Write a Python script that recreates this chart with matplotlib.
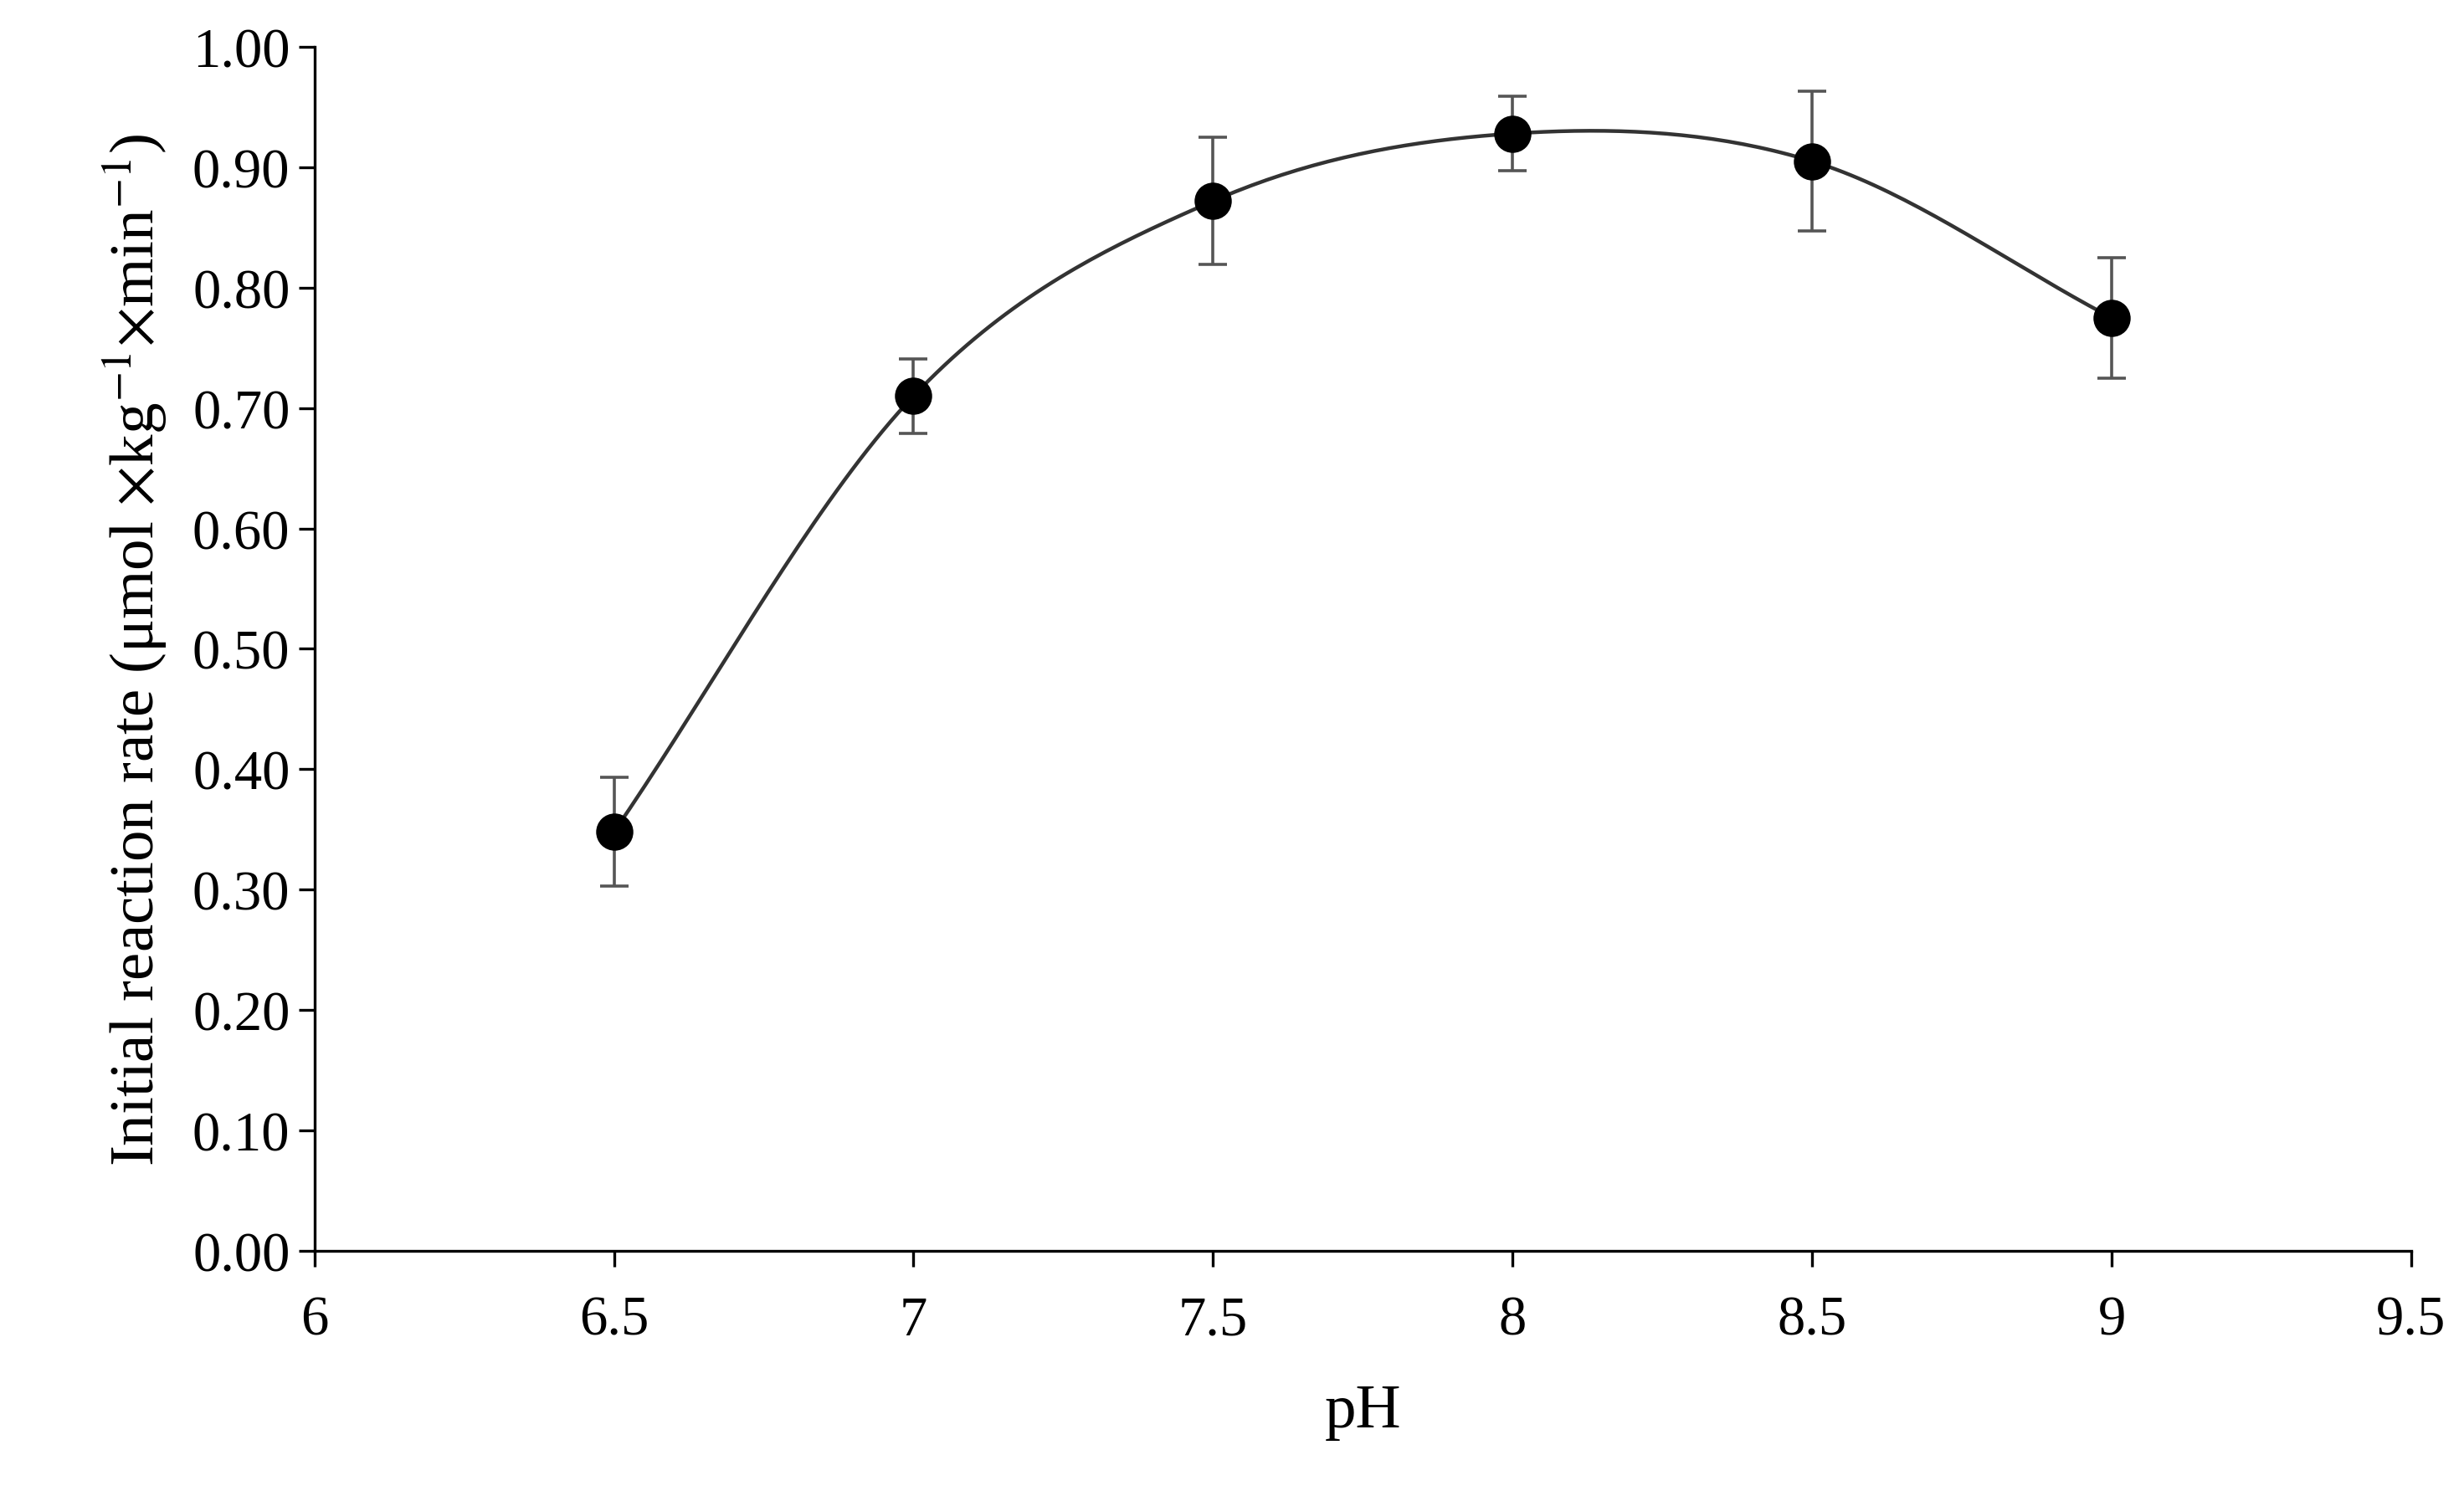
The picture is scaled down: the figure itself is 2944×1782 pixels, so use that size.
import matplotlib
matplotlib.use("Agg")
import matplotlib.pyplot as plt
import numpy as np

plt.rcParams['font.family'] = ['Liberation Serif', 'DejaVu Serif']
plt.rcParams['mathtext.fontset'] = 'stix'

ph = [6.5, 7.0, 7.5, 8.0, 8.5, 9.0]
rate = [0.348, 0.710, 0.872, 0.928, 0.905, 0.775]
err = [0.045, 0.031, 0.053, 0.031, 0.058, 0.050]


def catmull_rom(x, y, n=40):
    # smooth line through the points, like a spreadsheet "smoothed line"
    x = np.asarray(x); y = np.asarray(y)
    px = np.concatenate([[2 * x[0] - x[1]], x, [2 * x[-1] - x[-2]]])
    py = np.concatenate([[2 * y[0] - y[1]], y, [2 * y[-1] - y[-2]]])
    xs, ys = [], []
    t = np.linspace(0, 1, n)
    for i in range(1, len(px) - 2):
        for p, out in ((px, xs), (py, ys)):
            p0, p1, p2, p3 = p[i - 1], p[i], p[i + 1], p[i + 2]
            out.extend(0.5 * (2 * p1 + (-p0 + p2) * t
                              + (2 * p0 - 5 * p1 + 4 * p2 - p3) * t ** 2
                              + (-p0 + 3 * p1 - 3 * p2 + p3) * t ** 3))
    return xs, ys


fig = plt.figure(figsize=(14.72, 8.915), dpi=200)
ax = fig.add_axes([0.1276, 0.161, 0.851, 0.807])

sx, sy = catmull_rom(ph, rate)
ax.plot(sx, sy, color='#333333', lw=1.6)
ax.errorbar(ph, rate, yerr=err, fmt='o', color='black', ms=15,
            ecolor='#555555', elinewidth=1.3, capsize=6, capthick=1.3)

ax.set_xlim(6, 9.5)
ax.set_ylim(0, 1.0)
ax.set_xticks([6, 6.5, 7, 7.5, 8, 8.5, 9, 9.5])
ax.set_xticklabels(['6', '6.5', '7', '7.5', '8', '8.5', '9', '9.5'])
ax.set_yticks(np.arange(0, 1.01, 0.1))
ax.set_yticklabels(['%.2f' % v for v in np.arange(0, 1.01, 0.1)])
ax.tick_params(labelsize=24, direction='out', length=7, width=1.2)
ax.tick_params(axis='x', pad=12)
for s in ['top', 'right']:
    ax.spines[s].set_visible(False)
for s in ['left', 'bottom']:
    ax.spines[s].set_linewidth(1.2)

ax.set_xlabel('pH', fontsize=27, labelpad=16)
ax.set_ylabel(r'Initial reaction rate (μmol $\times$kg$^{-1}$$\times$min$^{-1}$)',
              fontsize=27, labelpad=10)

fig.savefig('out.png', dpi=200, facecolor='white')
